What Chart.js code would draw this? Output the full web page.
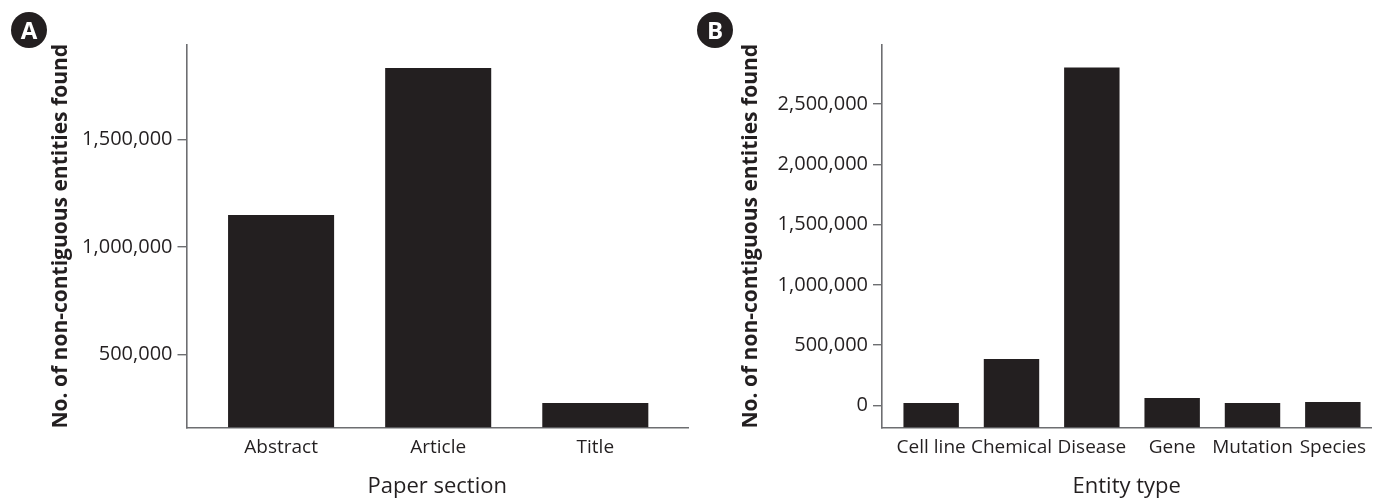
<!DOCTYPE html>
<html>
<head>
<meta charset="utf-8">
<script src="https://cdn.jsdelivr.net/npm/chart.js@4.4.1/dist/chart.umd.min.js"></script>
<style>
  html, body { margin: 0; padding: 0; background: #fff; overflow: hidden; }
  #page { position: relative; width: 1375px; height: 498px; overflow: hidden; }
  .panel { position: absolute; top: 0; height: 500px; }
  #panel-a { left: 0; width: 690px; }
  #panel-b { left: 690px; width: 685px; }
  .badge {
    position: absolute; top: 12px; width: 36px; height: 36px; border-radius: 50%;
    background: #231f20; color: #fff; font: bold 24px "Open Sans", sans-serif;
    line-height: 36px; text-align: center;
  }
</style>
</head>
<body>
<div id="page">
  <div class="panel" id="panel-a"><canvas id="chart-a"></canvas></div>
  <div class="panel" id="panel-b"><canvas id="chart-b"></canvas></div>
  <div class="badge" style="left:11px">A</div>
  <div class="badge" style="left:697px">B</div>
</div>
<script>
"use strict";

// ── Data ────────────────────────────────────────────────────────────────────
const SECTIONS = ["Abstract", "Article", "Title"];
const SECTION_COUNTS = [1149000, 1833000, 274000];
const SECTION_TICKS = [500000, 1000000, 1500000];

const ENTITY_TYPES = ["Cell line", "Chemical", "Disease", "Gene", "Mutation", "Species"];
const ENTITY_COUNTS = [20500, 386000, 2803000, 62000, 20500, 28800];
const ENTITY_TICKS = [0, 500000, 1000000, 1500000, 2000000, 2500000];

const Y_TITLE = "No. of non-contiguous entities found";

// ── Style ───────────────────────────────────────────────────────────────────
const BAR_COLOR = "#231f20";
const AXIS_COLOR = "#6d6e71";
const TEXT_COLOR = "#231f20";
const FONT = "'Open Sans', 'Noto Sans', sans-serif";

Chart.defaults.font.family = FONT;
Chart.defaults.color = TEXT_COLOR;

// ── Builder ─────────────────────────────────────────────────────────────────
function makeChart(id, cfg) {
  const ctx = document.getElementById(id).getContext("2d");
  return new Chart(ctx, {
    type: "bar",
    data: {
      datasets: [{
        data: cfg.values.map((v, i) => ({ x: i, y: v })),
        base: cfg.yMin,   // bars rise from the bottom of the axis
        backgroundColor: BAR_COLOR,
        borderWidth: 0,
        barPercentage: cfg.barPct,
        categoryPercentage: 1,
      }],
    },
    options: {
      animation: false,
      responsive: true,
      maintainAspectRatio: false,
      layout: { padding: { top: 45, right: cfg.padRight, left: 0, bottom: 0 } },
      plugins: { legend: { display: false }, tooltip: { enabled: false } },
      scales: {
        x: {
          type: "linear",
          offset: false,
          min: cfg.xMin,
          max: cfg.xMax,
          afterBuildTicks: s => { s.ticks = cfg.labels.map((_, i) => ({ value: i })); },
          afterFit: s => { s.height = 72.5; },
          ticks: {
            autoSkip: false,
            maxRotation: 0,
            padding: 9,
            font: { size: 19 },
            color: TEXT_COLOR,
            callback: v => cfg.labels[v] ?? "",
          },
          grid: { display: false, drawTicks: false },
          border: { display: true, color: AXIS_COLOR, width: 1.6 },
          title: {
            display: true,
            text: cfg.xTitle,
            font: { size: 22 },
            color: TEXT_COLOR,
            padding: { top: 0, bottom: 0 },
          },
        },
        y: {
          min: cfg.yMin,
          max: cfg.yMax,
          afterBuildTicks: s => { s.ticks = cfg.ticks.map(v => ({ value: v })); },
          afterFit: s => { s.width = cfg.yWidth; },
          ticks: {
            padding: 5,
            font: { size: 20 },
            color: TEXT_COLOR,
            callback: v => v.toLocaleString("en-US"),
          },
          grid: {
            drawOnChartArea: false,
            drawTicks: true,
            tickLength: 9,
            color: AXIS_COLOR,
            lineWidth: 1.4,
          },
          border: { display: true, color: AXIS_COLOR, width: 1.6 },
          title: {
            display: true,
            text: Y_TITLE,
            font: { size: 21, weight: "bold" },
            color: TEXT_COLOR,
            padding: { top: 48, bottom: 0 },
          },
        },
      },
    },
  });
}

// ── Panel A: paper section ──────────────────────────────────────────────────
makeChart("chart-a", {
  labels: SECTIONS,
  values: SECTION_COUNTS,
  ticks: SECTION_TICKS,
  xTitle: "Paper section",
  xMin: -0.602, xMax: 2.59,
  yMin: 160000, yMax: 1940000,
  yWidth: 186.5,
  padRight: 2,
  barPct: 0.675,
});

// ── Panel B: entity type ────────────────────────────────────────────────────
makeChart("chart-b", {
  labels: ENTITY_TYPES,
  values: ENTITY_COUNTS,
  ticks: ENTITY_TICKS,
  xTitle: "Entity type",
  xMin: -0.612, xMax: 5.48,
  yMin: -183000, yMax: 2990000,
  yWidth: 192,
  padRight: 0,
  barPct: 0.69,
});
</script>
</body>
</html>
